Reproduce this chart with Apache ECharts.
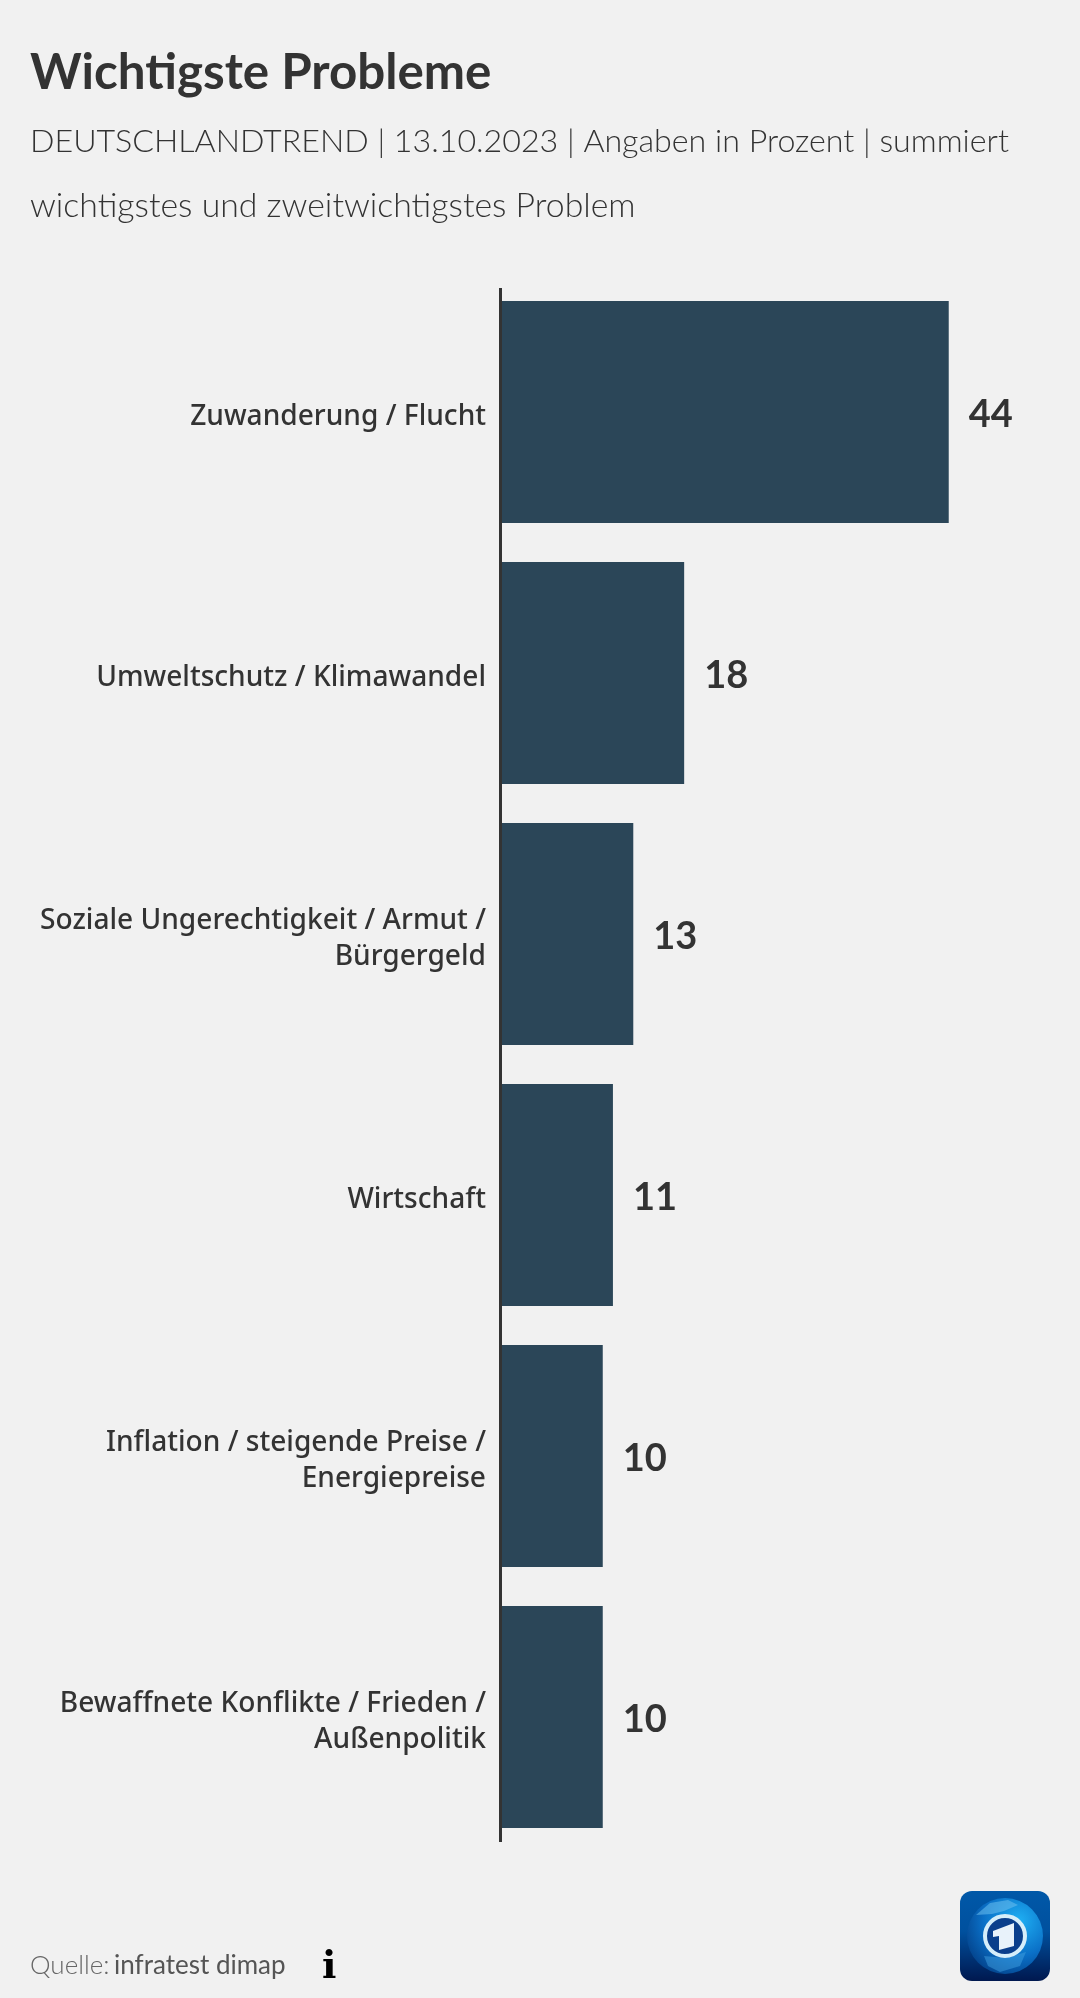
<!DOCTYPE html>
<html>
<head>
<meta charset="utf-8">
<style>
html,body{margin:0;padding:0;background:#f1f1f1;}
#chart{width:1080px;height:1998px;}
</style>
<script src="https://cdn.jsdelivr.net/npm/echarts@6/dist/echarts.min.js"></script>
</head>
<body>
<div id="chart"></div>
<script>
var categories = [
  'Zuwanderung / Flucht',
  'Umweltschutz / Klimawandel',
  'Soziale Ungerechtigkeit / Armut /\nBürgergeld',
  'Wirtschaft',
  'Inflation / steigende Preise /\nEnergiepreise',
  'Bewaffnete Konflikte / Frieden /\nAußenpolitik'
];
var values = [44, 18, 13, 11, 10, 10];
var titleText = 'Wichtigste Probleme';
var subtitleLines = [
  'DEUTSCHLANDTREND | 13.10.2023 | Angaben in Prozent | summiert',
  'wichtigstes und zweitwichtigstes Problem'
];
var sourceLabel = 'Quelle: ';
var sourceName = 'infratest dimap';

var fontFam = 'Lato, "Noto Sans", sans-serif';
var labelFam = '"Noto Sans", Lato, sans-serif';
var myChart = echarts.init(document.getElementById('chart'), null, {renderer: 'canvas'});

var option = {
  backgroundColor: '#f1f1f1',
  animation: false,
  // second grid only carries the category labels, they sit a little lower than the bar centres
  grid: [
    {left: 501, right: 0, top: 281.5, height: 1566},
    {left: 501, right: 0, top: 286.5, height: 1566}
  ],
  xAxis: [
    {type: 'value', min: 0, max: 56.9, show: false, gridIndex: 0},
    {type: 'value', min: 0, max: 56.9, show: false, gridIndex: 1}
  ],
  yAxis: [
    {
      type: 'category',
      gridIndex: 0,
      inverse: true,
      data: categories,
      axisLine: {show: false},
      axisTick: {show: false},
      axisLabel: {show: false}
    },
    {
      type: 'category',
      gridIndex: 1,
      inverse: true,
      data: categories,
      axisLine: {show: false},
      axisTick: {show: false},
      axisLabel: {
        color: '#333333',
        fontFamily: labelFam,
        fontWeight: 500,
        fontSize: 28.1,
        lineHeight: 36,
        align: 'right',
        margin: 15
      }
    }
  ],
  series: [{
    type: 'bar',
    xAxisIndex: 0,
    yAxisIndex: 0,
    data: values,
    barWidth: 222,
    itemStyle: {color: '#2b4658'},
    label: {
      show: true,
      position: 'right',
      distance: 20,
      offset: [0, 3],
      color: '#333333',
      fontFamily: fontFam,
      fontWeight: 'bold',
      fontSize: 38
    }
  }],
  graphic: [
    {type: 'text', left: 30, top: 49, style: {text: titleText, fontFamily: fontFam, fontWeight: 'bold', fontSize: 49.3, fill: '#333333'}},
    {type: 'text', left: 30, top: 126, style: {text: subtitleLines[0], fontFamily: fontFam, fontWeight: 300, fontSize: 32.2, fill: '#333333'}},
    {type: 'text', left: 30, top: 189, style: {text: subtitleLines[1], fontFamily: fontFam, fontWeight: 300, fontSize: 33.8, fill: '#333333'}},
    // y axis rule, shorter than the band
    {type: 'rect', shape: {x: 499, y: 288, width: 3, height: 1554}, style: {fill: '#333333'}, z: 10},
    {type: 'text', left: 30, top: 1953, style: {text: sourceLabel, fontFamily: fontFam, fontWeight: 300, fontSize: 26, fill: '#666666'}},
    {type: 'text', left: 114, top: 1953, style: {text: sourceName, fontFamily: fontFam, fontSize: 26, fill: '#555555'}},
    {type: 'text', left: 322, top: 1949, style: {text: 'i', fontFamily: '"DejaVu Serif"', fontWeight: 'bold', fontSize: 38, fill: '#000000'}},
    // logo
    {type: 'rect', shape: {x: 960, y: 1891, width: 90, height: 90, r: 12}, style: {fill: new echarts.graphic.LinearGradient(0, 0, 0, 1, [
      {offset: 0, color: '#0058a8'}, {offset: 0.45, color: '#00509e'}, {offset: 1, color: '#00184f'}
    ])}},
    {type: 'circle', shape: {cx: 1005, cy: 1936, r: 38}, style: {fill: new echarts.graphic.RadialGradient(0.68, 0.3, 0.85, [
      {offset: 0, color: '#1fb0f4'}, {offset: 0.55, color: '#0a6fc6'}, {offset: 1, color: '#023a80'}
    ])}},
    {type: 'polygon', shape: {points: [[976, 1915], [990, 1903], [1008, 1900], [1018, 1905], [1004, 1911], [992, 1914]]}, style: {fill: '#6cc0ee', opacity: 0.55}},
    {type: 'polygon', shape: {points: [[984, 1956], [1006, 1958], [1026, 1952], [1020, 1966], [1000, 1972], [988, 1966]]}, style: {fill: '#3f9fe0', opacity: 0.5}},
    {type: 'circle', shape: {cx: 1005, cy: 1936, r: 20}, style: {fill: '#0a3f8c', stroke: '#d5eefa', lineWidth: 4}},
    {type: 'polygon', shape: {points: [[993, 1931], [1014, 1923], [1014, 1946], [999, 1950], [999, 1936], [993, 1937]]}, style: {fill: '#e8f2fa'}}
  ]
};
myChart.setOption(option);
</script>
</body>
</html>
